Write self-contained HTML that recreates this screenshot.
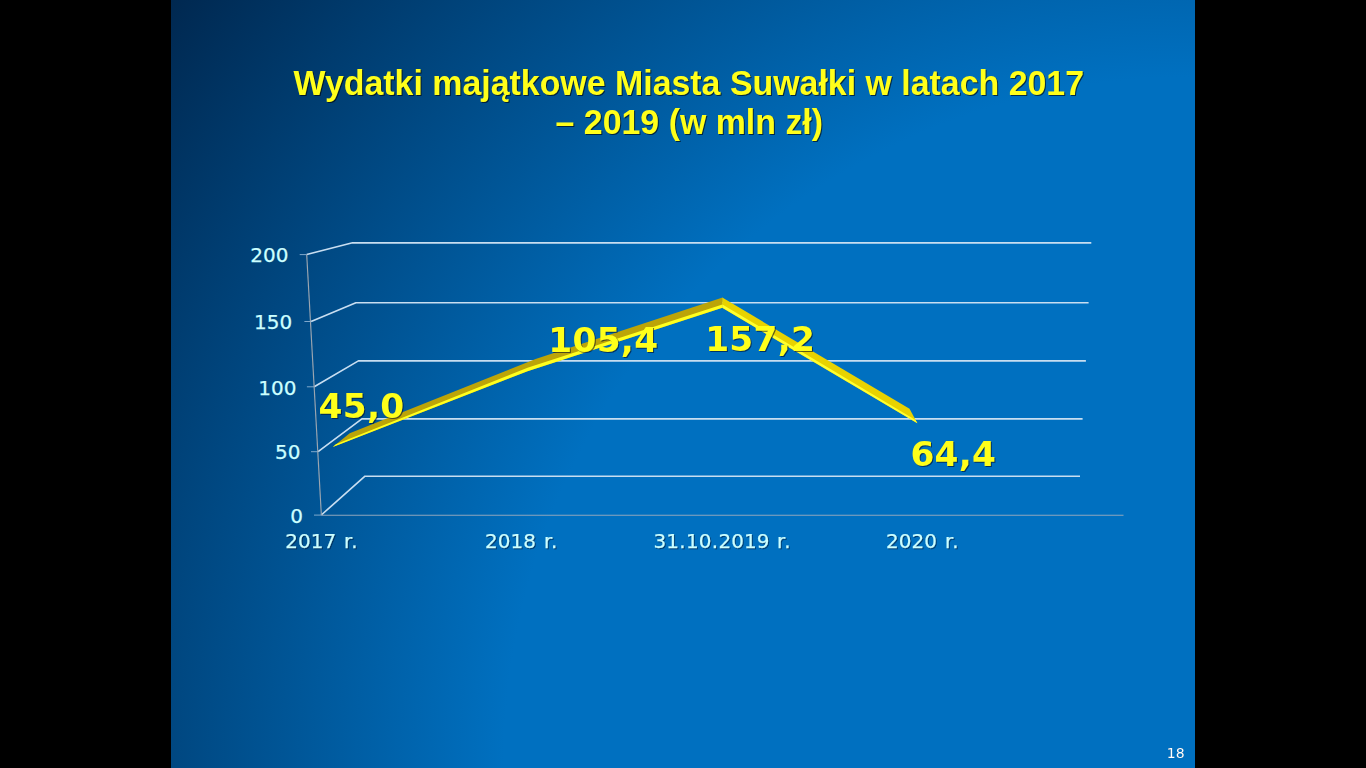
<!DOCTYPE html>
<html lang="pl">
<head>
<meta charset="utf-8">
<title>Wydatki majątkowe Miasta Suwałki w latach 2017 – 2019 (w mln zł)</title>
<style>
  html, body { margin: 0; padding: 0; background: #000; }
  body { width: 1366px; height: 768px; overflow: hidden; position: relative; }
  #slide {
    position: absolute; left: 171px; top: 0; width: 1024px; height: 768px;
    background: radial-gradient(circle 1280px at 100% 100%, #0070c0 0%, #0070c0 54%, #002850 100%);
    overflow: hidden;
  }
  svg { position: absolute; left: 0; top: 0; }
  .title { font-family: "Liberation Sans", sans-serif; font-weight: bold; font-size: 33.9px; fill: #ffff1a; text-anchor: middle; filter: drop-shadow(1.2px 1.2px 0.6px rgba(0,0,0,.6)); }
  .ax { font-family: "DejaVu Sans", "Liberation Sans", sans-serif; font-size: 20px; fill: #ccffff; stroke: #ccffff; stroke-width: 0.25px; }
  .xl { filter: drop-shadow(1px 1px 0.6px rgba(0,20,50,.55)); }
  .dl { font-family: "DejaVu Sans", "Liberation Sans", sans-serif; font-weight: bold; font-size: 34.4px; letter-spacing: 0.25px; fill: #ffff1a; filter: drop-shadow(1.3px 1.3px 0.7px rgba(0,10,40,.6)); }
  .num { font-family: "DejaVu Sans", "Liberation Sans", sans-serif; font-size: 14px; fill: #ffffff; filter: drop-shadow(0.8px 0.8px 0.4px rgba(0,20,50,.5)); }
</style>
</head>
<body>
<div id="slide"></div>
<svg width="1366" height="768" viewBox="0 0 1366 768">
  <!-- title -->
  <g id="title" class="title">
    <text x="688.8" y="95.5" transform="matrix(1 0 0 1.02 0 -1.91)">Wydatki majątkowe Miasta Suwałki w latach 2017</text>
    <text x="689.3" y="134.3" transform="matrix(1 0 0 1.02 0 -2.686)">– 2019 (w mln zł)</text>
  </g>

  <!-- chart walls / gridlines -->
  <g id="grid" fill="none" stroke="#c8def1" stroke-width="1.65" stroke-linejoin="round">
    <polyline points="306.7,254.5 352.5,242.8 1091.3,242.8"/>
    <polyline points="311.1,321.4 355.9,302.7 1088.6,302.7"/>
    <polyline points="314.2,386.7 358.4,360.9 1085.9,360.9"/>
    <polyline points="318.1,451.6 361.9,418.8 1082.6,418.8"/>
    <polyline points="321.3,515 365,476.2 1080,476.2"/>
  </g>
  <g id="axes" fill="none" stroke="#9ca6b0" stroke-width="1.15">
    <line x1="306.7" y1="254.5" x2="321.35" y2="515"/>
    <line x1="321.3" y1="515.3" x2="1123.5" y2="515.3" stroke="#8fa6bc" stroke-width="1.05"/>
    <g stroke="#8db2d2" stroke-width="0.9">
      <line x1="299.7" y1="254.6" x2="306.7" y2="254.6"/>
      <line x1="304.4" y1="321.5" x2="311.1" y2="321.5"/>
      <line x1="306.9" y1="386.8" x2="314.2" y2="386.8"/>
      <line x1="311" y1="451.7" x2="318.1" y2="451.7"/>
      <line x1="314" y1="515.1" x2="321.3" y2="515.1"/>
    </g>
  </g>

  <!-- ribbon -->
  <g id="ribbon">
    <!-- rising segments top face (shaded) -->
    <polygon points="332.8,447 349.7,433.2 535.6,358.9 722.6,297.6 722.4,307.8 527.5,371.2" fill="#bca408"/>
    <!-- falling segment top face (lit) -->
    <polygon points="722.3,297.6 909.5,408.8 917.4,423.3 722.1,307.8" fill="#e8d200"/>
    <!-- front faces -->
    <polygon points="332.8,447 527.5,371.2 722.4,307.8 722.4,304.4 527.5,367.7 335.8,444.2" fill="#ffff1e"/>
    <polygon points="722.4,307.8 917.4,423.3 915.5,419.9 722.4,304.4" fill="#ffff30"/>
  </g>

  <!-- y axis labels -->
  <g id="ylabels" class="ax" text-anchor="end">
    <text x="288.4" y="262">200</text>
    <text x="292.3" y="328.8">150</text>
    <text x="296.5" y="394.8">100</text>
    <text x="300.5" y="458.9">50</text>
    <text x="302.9" y="522.8">0</text>
  </g>

  <!-- x axis labels -->
  <g id="xlabels" class="ax xl">
    <text x="285.2" y="547.7" dx="0 0 0 0 0 1.6 0.8">2017 r.</text>
    <text x="485" y="547.7" dx="0 0 0 0 0 1.6 0.8">2018 r.</text>
    <text x="653.4" y="547.7" dx="0 0 0.3 0.4 0 0.3 0.4 0 0 0 0 1.2 0.8">31.10.2019 r.</text>
    <text x="886.1" y="547.7" dx="0 0 0 0 0 1.6 0.8">2020 r.</text>
  </g>

  <!-- data labels -->
  <g id="dlabels" class="dl">
    <text x="318.6" y="418.1">45,0</text>
    <text x="548.3" y="351.8">105,4</text>
    <text x="705.2" y="351.1">157,2</text>
    <text x="910.4" y="465.8">64,4</text>
  </g>

  <!-- slide number -->
  <text class="num" x="1166.8" y="758">18</text>
</svg>
</body>
</html>
